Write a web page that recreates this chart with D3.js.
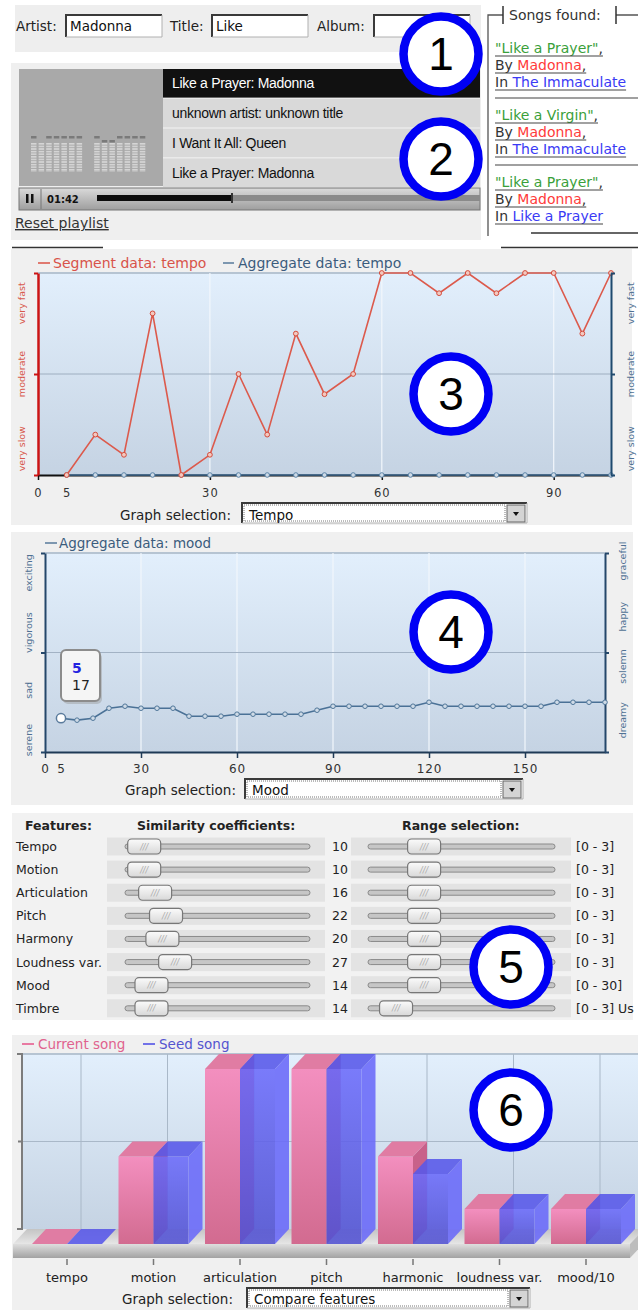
<!DOCTYPE html>
<html>
<head>
<meta charset="utf-8">
<script src="https://cdn.jsdelivr.net/npm/d3@7"></script>
<style>
  body { margin: 0; background: #fff; }
  text { font-family: "DejaVu Sans", Verdana, sans-serif; }
</style>
</head>
<body>
<div id="chart"></div>
<script>
// ---------- data ----------
var searchLabels = ["Artist:", "Title:", "Album:"];
var searchValues = ["Madonna", "Like", ""];

var playlist = ["Like a Prayer: Madonna", "unknown artist: unknown title", "I Want It All: Queen", "Like a Prayer: Madonna"];
var eqLevels = [9, 0, 9, 9, 9, 9, 9, 9, 8, 8, 9, 9, 9, 9];

var foundTitles  = ["Like a Prayer", "Like a Virgin", "Like a Prayer"];
var foundArtists = ["Madonna", "Madonna", "Madonna"];
var foundAlbums  = ["The Immaculate", "The Immaculate", "Like a Prayer"];

// tempo panel (segment index in seconds vs tempo level 0-100)
var tempoTime      = [5, 10, 15, 20, 25, 30, 35, 40, 45, 50, 55, 60, 65, 70, 75, 80, 85, 90, 95, 100];
var tempoSegment   = [0, 20, 10, 80, 0, 10, 50, 20, 70, 40, 50, 100, 100, 90, 100, 90, 100, 100, 70, 100];
var tempoAggregate = [0, 0, 0, 0, 0, 0, 0, 0, 0, 0, 0, 0, 0, 0, 0, 0, 0, 0, 0, 0];
var tempoTicks  = [0, 5, 30, 60, 90];
var tempoLevels = ["very slow", "moderate", "very fast"];
var tempoLevelAt = [13, 50, 85];

// mood panel
var moodTime = [5, 10, 15, 20, 25, 30, 35, 40, 45, 50, 55, 60, 65, 70, 75, 80, 85, 90, 95, 100,
                105, 110, 115, 120, 125, 130, 135, 140, 145, 150, 155, 160, 165, 170, 175];
var moodAggregate = [17, 16, 17, 22, 23, 22, 22, 22, 18, 18, 18, 19, 19, 19, 19, 19, 21, 23, 23, 23,
                     23, 23, 23, 25, 23, 23, 23, 23, 23, 23, 23, 25, 25, 25, 25];
var moodTicks = [0, 5, 30, 60, 90, 120, 150];
var moodLeft  = ["serene", "sad", "vigorous", "exciting"];
var moodLeftAt = [6, 31, 60, 90];
var moodRight = ["dreamy", "solemn", "happy", "graceful"];
var moodRightAt = [16, 43, 68, 96];

// feature weights
var features   = ["Tempo", "Motion", "Articulation", "Pitch", "Harmony", "Loudness var.", "Mood", "Timbre"];
var similarity = [10, 10, 16, 22, 20, 27, 14, 14];
var rangePos   = [30, 30, 30, 30, 30, 30, 30, 15];
var rangeLabels = ["[0 - 3]", "[0 - 3]", "[0 - 3]", "[0 - 3]", "[0 - 3]", "[0 - 3]", "[0 - 30]", "[0 - 3] Us"];

// compare features
var compareCats = ["tempo", "motion", "articulation", "pitch", "harmonic", "loudness var.", "mood/10"];
var currentSong = [0, 1.5, 3, 3, 1.5, 0.6, 0.6];
var seedSong    = [0, 1.5, 3, 3, 1.2, 0.6, 0.6];

// ---------- page ----------
var W = 638, H = 1310;
var svg = d3.select("#chart").append("svg")
    .attr("width", W)
    .attr("height", H);
var defs = svg.append("defs");

function vgrad(id, stops) {
  var g = defs.append("linearGradient").attr("id", id)
      .attr("x1", 0).attr("y1", 0).attr("x2", 0).attr("y2", 1);
  stops.forEach(function(s, i) {
    g.append("stop").attr("offset", i / (stops.length - 1)).attr("stop-color", s);
  });
}
vgrad("plotBg", ["#e2effc", "#c5d3e3"]);
vgrad("pinkFront", ["#f38fbf", "#d26b90"]);
vgrad("blueFront", ["#6c6cfb", "#5252d2"]);
vgrad("floorTop", ["#c4c4c4", "#e6e6e6"]);
vgrad("floorFront", ["#dedede", "#a2a2a2"]);
vgrad("progBg", ["#dadada", "#9e9e9e"]);
vgrad("thumbBg", ["#fbfbfb", "#d8d8d8"]);

var stripe = defs.append("pattern").attr("id", "eqStripe")
    .attr("width", 6).attr("height", 2.6).attr("patternUnits", "userSpaceOnUse");
stripe.append("rect").attr("width", 6).attr("height", 1.6).attr("fill", "#d6d6d6");

function panel(x, y, w, h, fill) {
  return svg.append("rect").attr("x", x).attr("y", y).attr("width", w).attr("height", h).attr("fill", fill);
}

function sunkenBox(g, x, y, w, h) {
  g.append("rect").attr("x", x).attr("y", y).attr("width", w).attr("height", h).attr("fill", "#fff");
  g.append("path").attr("d", "M" + x + "," + (y + h) + "V" + y + "H" + (x + w))
      .attr("fill", "none").attr("stroke", "#3a3a3a").attr("stroke-width", 2);
  g.append("path").attr("d", "M" + (x + w) + "," + y + "V" + (y + h) + "H" + x)
      .attr("fill", "none").attr("stroke", "#b0b0b0").attr("stroke-width", 1);
}

function graphSelect(x, y, w, label, textX, textBaseline) {
  var g = svg.append("g");
  g.append("text").attr("x", textX).attr("y", textBaseline)
      .attr("font-size", 13.5).attr("fill", "#222").text("Graph selection:");
  sunkenBox(g, x, y, w, 20);
  g.append("rect").attr("x", x + 2).attr("y", y + 2).attr("width", w - 24).attr("height", 16)
      .attr("fill", "none").attr("stroke", "#777").attr("stroke-dasharray", "1,1");
  g.append("text").attr("x", x + 7).attr("y", textBaseline).attr("font-size", 13.5)
      .attr("fill", "#111").text(label);
  g.append("rect").attr("x", x + w - 20).attr("y", y + 2).attr("width", 18).attr("height", 17)
      .attr("fill", "#d4d4d4").attr("stroke", "#666");
  g.append("path").attr("d", "M" + (x + w - 14) + "," + (y + 9) + "h6l-3,4z").attr("fill", "#111");
}

// ---------- 1: search ----------
panel(15, 5, 466, 47, "#eeeeee");
var searchG = svg.append("g");
var labelX = [16, 170, 317], inputX = [66, 212, 374];
searchLabels.forEach(function(l, i) {
  searchG.append("text").attr("x", labelX[i]).attr("y", 31).attr("font-size", 13.5).attr("fill", "#222").text(l);
  sunkenBox(searchG, inputX[i], 15, 96, 22);
  searchG.append("text").attr("x", inputX[i] + 4).attr("y", 31).attr("font-size", 13.5).attr("fill", "#111").text(searchValues[i]);
});

// ---------- 2: player ----------
panel(11, 63, 470, 177, "#efefef");
svg.append("rect").attr("x", 19).attr("y", 69).attr("width", 144).attr("height", 117).attr("fill", "#a9a9a9");
var eqG = svg.append("g");
eqLevels.forEach(function(lv, i) {
  var bx = 31 + i * 7.6 + (i >= 7 ? 10 : 0);
  eqG.append("rect").attr("x", bx).attr("y", 143).attr("width", 5.5).attr("height", 29).attr("fill", "url(#eqStripe)");
  if (lv > 0) eqG.append("rect").attr("x", bx).attr("y", 172 - lv * 4).attr("width", 5.5).attr("height", 2.5).attr("fill", "#7a7a7a");
});

var rowY = d3.scaleBand().domain(d3.range(playlist.length)).range([69, 187]).paddingInner(0.04);
var plG = svg.append("g");
plG.selectAll("rect").data(playlist).enter().append("rect")
    .attr("x", 163).attr("y", function(d, i) { return rowY(i); })
    .attr("width", 317).attr("height", rowY.bandwidth())
    .attr("fill", function(d, i) { return i === 0 ? "#111" : "#d9d9d9"; });
plG.selectAll("text").data(playlist).enter().append("text")
    .attr("x", 172).attr("y", function(d, i) { return rowY(i) + rowY.bandwidth() / 2 + 5; })
    .style("font-family", "'Liberation Sans', Arial, sans-serif")
    .attr("font-size", 14).attr("letter-spacing", -0.3)
    .attr("fill", function(d, i) { return i === 0 ? "#fff" : "#111"; })
    .text(function(d) { return d; });

// progress bar
var prog = svg.append("g");
prog.append("rect").attr("x", 19).attr("y", 188).attr("width", 461).attr("height", 22)
    .attr("fill", "url(#progBg)").attr("stroke", "#777");
prog.append("line").attr("x1", 41).attr("x2", 41).attr("y1", 189).attr("y2", 209).attr("stroke", "#777");
prog.append("rect").attr("x", 26).attr("y", 194).attr("width", 2.5).attr("height", 9).attr("fill", "#111");
prog.append("rect").attr("x", 31).attr("y", 194).attr("width", 2.5).attr("height", 9).attr("fill", "#111");
prog.append("text").attr("x", 47).attr("y", 203).attr("font-size", 10).attr("font-weight", "bold").attr("fill", "#111").text("01:42");
prog.append("rect").attr("x", 97).attr("y", 195).attr("width", 383).attr("height", 6).attr("fill", "#8a8a8a");
prog.append("rect").attr("x", 97).attr("y", 195).attr("width", 135).attr("height", 6).attr("fill", "#0c0c0c");
prog.append("rect").attr("x", 231).attr("y", 193).attr("width", 2).attr("height", 10).attr("fill", "#333");

svg.append("text").attr("x", 15).attr("y", 228).attr("font-size", 14).attr("fill", "#333")
    .attr("text-decoration", "underline").text("Reset playlist");

// songs found
var sf = svg.append("g");
sf.append("path").attr("d", "M488,236V15H503M616,15H638").attr("fill", "none").attr("stroke", "#555").attr("stroke-width", 1.3);
sf.append("path").attr("d", "M503,6V24M616,6V24").attr("fill", "none").attr("stroke", "#333").attr("stroke-width", 1.5);
sf.append("text").attr("x", 509).attr("y", 20).attr("font-size", 14).attr("fill", "#333").text("Songs found:");
var entryY = d3.scalePoint().domain(d3.range(foundTitles.length)).range([53, 187]);
foundTitles.forEach(function(t, i) {
  var y0 = entryY(i);
  var lines = [
    [["\"" + t + "\"", "#3aa03a"], [",", "#333"]],
    [["By ", "#333"], [foundArtists[i], "#ff3b3b"], [",", "#333"]],
    [["In ", "#333"], [foundAlbums[i], "#3a3af5"]]
  ];
  lines.forEach(function(parts, j) {
    var tx = sf.append("text").attr("x", 495).attr("y", y0 + j * 17).attr("font-size", 14);
    parts.forEach(function(p) { tx.append("tspan").attr("fill", p[1]).text(p[0]); });
    var len = tx.node().getComputedTextLength();
    sf.append("line").attr("x1", 495).attr("x2", Math.min(495 + len, 638))
        .attr("y1", y0 + j * 17 + 3).attr("y2", y0 + j * 17 + 3)
        .attr("stroke", "#444").attr("stroke-width", 1.2);
  });
  if (i < foundTitles.length - 1) {
    sf.append("line").attr("x1", 495).attr("x2", 638).attr("y1", y0 + 45).attr("y2", y0 + 45)
        .attr("stroke", "#a0a0a0").attr("stroke-width", 2);
  }
});
sf.append("line").attr("x1", 531).attr("x2", 638).attr("y1", 233).attr("y2", 233).attr("stroke", "#333").attr("stroke-width", 1.5);

// ---------- 3: tempo chart ----------
panel(11, 249, 621, 276, "#f0f0f0");
svg.append("path").attr("d", "M12,247.5H103M501,247.5H638").attr("stroke", "#333").attr("stroke-width", 1.5);

var tx = d3.scaleLinear().domain([0, 100]).range([38, 611]);
var ty = d3.scaleLinear().domain([0, 100]).range([475, 273]);
var tg = svg.append("g");
tg.append("rect").attr("x", tx(0)).attr("y", ty(100)).attr("width", tx(100) - tx(0)).attr("height", ty(0) - ty(100))
    .attr("fill", "url(#plotBg)");
tg.append("line").attr("x1", tx(0)).attr("x2", tx(100)).attr("y1", ty(100)).attr("y2", ty(100)).attr("stroke", "#b6c4d2").attr("stroke-width", 2);
tg.selectAll(".vgrid").data([30, 60, 90]).enter().append("line")
    .attr("x1", tx).attr("x2", tx).attr("y1", ty(100)).attr("y2", ty(0))
    .attr("stroke", "#f2f7fc").attr("stroke-width", 1.2);
tg.append("line").attr("x1", tx(0)).attr("x2", tx(100)).attr("y1", ty(50)).attr("y2", ty(50)).attr("stroke", "#9eaec0");

var tLine = d3.line().x(function(d) { return tx(d[0]); }).y(function(d) { return ty(d[1]); });
var aggPts = d3.zip(tempoTime, tempoAggregate), segPts = d3.zip(tempoTime, tempoSegment);

var tAxis = tg.append("g").attr("transform", "translate(0," + ty(0) + ")")
    .call(d3.axisBottom(tx).tickValues(tempoTicks).tickSize(5).tickSizeOuter(0));
tAxis.select(".domain").attr("stroke", "#111").attr("stroke-width", 2);
tAxis.selectAll(".tick line").attr("stroke", "#111").attr("stroke-width", 1.5)
    .attr("opacity", function(d) { return d === 5 ? 0 : 1; });
tAxis.selectAll("text").attr("y", 22).attr("dy", 0).attr("font-size", 11.5).attr("letter-spacing", 1).attr("fill", "#333");

tg.append("path").datum(aggPts).attr("d", tLine).attr("fill", "none").attr("stroke", "#3f6a90").attr("stroke-width", 1.5);
tg.selectAll(".aggDot").data(aggPts).enter().append("circle")
    .attr("cx", function(d) { return tx(d[0]); }).attr("cy", function(d) { return ty(d[1]); }).attr("r", 2.3)
    .attr("fill", "#cfdbe7").attr("stroke", "#5b84a8").attr("stroke-width", 1);
tg.append("path").datum(segPts).attr("d", tLine).attr("fill", "none").attr("stroke", "#dc5a4c").attr("stroke-width", 1.6);
tg.selectAll(".segDot").data(segPts).enter().append("circle")
    .attr("cx", function(d) { return tx(d[0]); }).attr("cy", function(d) { return ty(d[1]); }).attr("r", 2.4)
    .attr("fill", "#f3c9c0").attr("stroke", "#d44c3c").attr("stroke-width", 1);

var tLeft = tg.append("g").attr("transform", "translate(" + tx(0) + ",0)")
    .call(d3.axisLeft(ty).tickValues([0, 50, 100]).tickSize(4).tickSizeOuter(0).tickFormat(""));
tLeft.select(".domain").attr("stroke", "#cc1414").attr("stroke-width", 2.5);
tLeft.selectAll(".tick line").attr("stroke", "#cc1414").attr("stroke-width", 2);
var tRight = tg.append("g").attr("transform", "translate(" + tx(100) + ",0)")
    .call(d3.axisRight(ty).tickValues([0, 50, 100]).tickSize(4).tickSizeOuter(0).tickFormat(""));
tRight.select(".domain").attr("stroke", "#1f4a6e").attr("stroke-width", 2);
tRight.selectAll(".tick line").attr("stroke", "#1f4a6e").attr("stroke-width", 2);

tempoLevels.forEach(function(l, i) {
  tg.append("text").attr("transform", "translate(21.5," + ty(tempoLevelAt[i]) + ") rotate(-90)")
      .attr("text-anchor", "middle").attr("dy", "0.35em").attr("font-size", 9.5).attr("fill", "#d8584c").text(l);
  tg.append("text").attr("transform", "translate(630.5," + ty(tempoLevelAt[i]) + ") rotate(-90)")
      .attr("text-anchor", "middle").attr("dy", "0.35em").attr("font-size", 9.5).attr("fill", "#4f7193").text(l);
});

tg.append("line").attr("x1", 38).attr("x2", 50).attr("y1", 263).attr("y2", 263).attr("stroke", "#e07a70").attr("stroke-width", 2);
tg.append("text").attr("x", 53).attr("y", 268).attr("font-size", 14).attr("fill", "#d8534a").text("Segment data: tempo");
tg.append("line").attr("x1", 223).attr("x2", 234).attr("y1", 263).attr("y2", 263).attr("stroke", "#7d97b0").attr("stroke-width", 2);
tg.append("text").attr("x", 238).attr("y", 268).attr("font-size", 14).attr("fill", "#3b5c7d").text("Aggregate data: tempo");

graphSelect(242, 503, 285, "Tempo", 120, 520);

// ---------- 4: mood chart ----------
panel(11, 532, 622, 273, "#f0f0f0");
var mx = d3.scaleLinear().domain([0, 175]).range([45, 605]);
var my = d3.scaleLinear().domain([0, 100]).range([752, 553]);
var mg = svg.append("g");
mg.append("rect").attr("x", mx(0)).attr("y", my(100)).attr("width", mx(175) - mx(0)).attr("height", my(0) - my(100))
    .attr("fill", "url(#plotBg)");
mg.append("line").attr("x1", mx(0)).attr("x2", mx(175)).attr("y1", my(100)).attr("y2", my(100)).attr("stroke", "#b6c4d2").attr("stroke-width", 2);
mg.selectAll(".vgrid").data([30, 60, 90, 120, 150]).enter().append("line")
    .attr("x1", mx).attr("x2", mx).attr("y1", my(100)).attr("y2", my(0))
    .attr("stroke", "#f2f7fc").attr("stroke-width", 1.2);
mg.append("line").attr("x1", mx(0)).attr("x2", mx(175)).attr("y1", my(50)).attr("y2", my(50)).attr("stroke", "#a2b2c4");

var mAxis = mg.append("g").attr("transform", "translate(0," + my(0) + ")")
    .call(d3.axisBottom(mx).tickValues(moodTicks).tickSize(6).tickSizeOuter(0));
mAxis.select(".domain").attr("stroke", "#1f3a56").attr("stroke-width", 2);
mAxis.selectAll(".tick line").attr("stroke", "#1f3a56").attr("stroke-width", 1.5)
    .attr("opacity", function(d) { return d === 5 ? 0 : 1; });
mAxis.selectAll("text").attr("y", 21).attr("dy", 0).attr("font-size", 12).attr("letter-spacing", 0.8).attr("fill", "#333");

var mLeft = mg.append("g").attr("transform", "translate(" + mx(0) + ",0)")
    .call(d3.axisLeft(my).tickValues([0, 50, 100]).tickSize(4).tickSizeOuter(0).tickFormat(""));
var mRight = mg.append("g").attr("transform", "translate(" + mx(175) + ",0)")
    .call(d3.axisRight(my).tickValues([0, 50, 100]).tickSize(4).tickSizeOuter(0).tickFormat(""));
[mLeft, mRight].forEach(function(a) {
  a.select(".domain").attr("stroke", "#24476a").attr("stroke-width", 2);
  a.selectAll(".tick line").attr("stroke", "#24476a").attr("stroke-width", 2);
});
moodLeft.forEach(function(l, i) {
  mg.append("text").attr("transform", "translate(28.5," + my(moodLeftAt[i]) + ") rotate(-90)")
      .attr("text-anchor", "middle").attr("dy", "0.35em").attr("font-size", 9.5).attr("fill", "#4f7193").text(l);
});
moodRight.forEach(function(l, i) {
  mg.append("text").attr("transform", "translate(623," + my(moodRightAt[i]) + ") rotate(-90)")
      .attr("text-anchor", "middle").attr("dy", "0.35em").attr("font-size", 9.5).attr("fill", "#4f7193").text(l);
});

var moodPts = d3.zip(moodTime, moodAggregate);
var mLine = d3.line().x(function(d) { return mx(d[0]); }).y(function(d) { return my(d[1]); });
mg.append("path").datum(moodPts).attr("d", mLine).attr("fill", "none").attr("stroke", "#4a7196").attr("stroke-width", 1.6);
mg.selectAll(".moodDot").data(moodPts).enter().append("circle")
    .attr("cx", function(d) { return mx(d[0]); }).attr("cy", function(d) { return my(d[1]); }).attr("r", 2.3)
    .attr("fill", "#cfdbe7").attr("stroke", "#4f7699").attr("stroke-width", 1);
mg.append("circle").attr("cx", mx(moodTime[0])).attr("cy", my(moodAggregate[0])).attr("r", 4.6)
    .attr("fill", "#fff").attr("stroke", "#5a7b9c").attr("stroke-width", 1.5);

// hover tooltip for the first point
var tip = mg.append("g");
tip.append("rect").attr("x", 63).attr("y", 653).attr("width", 39).attr("height", 51).attr("rx", 5).attr("fill", "#999").attr("opacity", 0.45);
tip.append("rect").attr("x", 61).attr("y", 650).attr("width", 39).attr("height", 51).attr("rx", 5)
    .attr("fill", "#f5f5f5").attr("stroke", "#8c8c8c").attr("stroke-width", 2);
tip.append("text").attr("x", 72).attr("y", 673).attr("font-size", 14).attr("font-weight", "bold").attr("fill", "#2323e0").text(moodTime[0]);
tip.append("text").attr("x", 72).attr("y", 690).attr("font-size", 14).attr("fill", "#222").text(moodAggregate[0]);

mg.append("line").attr("x1", 45).attr("x2", 57).attr("y1", 543).attr("y2", 543).attr("stroke", "#7d97b0").attr("stroke-width", 2);
mg.append("text").attr("x", 59).attr("y", 548).attr("font-size", 13.5).attr("fill", "#3b5c7d").text("Aggregate data: mood");

graphSelect(245, 779, 278, "Mood", 125, 795);

// ---------- 5: feature weights ----------
panel(12, 813, 621, 207, "#f2f2f2");
var fg = svg.append("g");
fg.append("text").attr("x", 25).attr("y", 830).attr("font-size", 12.5).attr("font-weight", "bold").attr("fill", "#222").text("Features:");
fg.append("text").attr("x", 137).attr("y", 830).attr("font-size", 12.5).attr("font-weight", "bold").attr("fill", "#222").text("Similarity coefficients:");
fg.append("text").attr("x", 402).attr("y", 830).attr("font-size", 12.5).attr("font-weight", "bold").attr("fill", "#222").text("Range selection:");

var fy = d3.scalePoint().domain(features).range([846.5, 1008.3]);
var simX = d3.scaleLinear().domain([0, 100]).range([126, 308]);
var rngX = d3.scaleLinear().domain([0, 100]).range([368, 555]);

function slider(g, x0, x1, cx, cy) {
  g.append("rect").attr("x", x0).attr("y", cy - 2.5).attr("width", x1 - x0).attr("height", 5).attr("rx", 2.5)
      .attr("fill", "#c6c6c6").attr("stroke", "#8a8a8a");
  g.append("rect").attr("x", cx - 16.5).attr("y", cy - 7.5).attr("width", 33).attr("height", 15).attr("rx", 4)
      .attr("fill", "url(#thumbBg)").attr("stroke", "#777").attr("stroke-width", 1.2);
  g.append("text").attr("x", cx).attr("y", cy + 3).attr("text-anchor", "middle").attr("font-size", 8)
      .attr("font-style", "italic").attr("fill", "#aaa").text("///");
}

features.forEach(function(f, i) {
  var cy = fy(f);
  fg.append("rect").attr("x", 107).attr("y", cy - 9).attr("width", 218).attr("height", 18).attr("fill", "#e3e3e3");
  fg.append("rect").attr("x", 351).attr("y", cy - 9).attr("width", 220).attr("height", 18).attr("fill", "#e3e3e3");
  fg.append("text").attr("x", 16).attr("y", cy + 4.5).attr("font-size", 12.5).attr("fill", "#222").text(f);
  slider(fg, 125, 310, simX(similarity[i]), cy);
  fg.append("text").attr("x", 332).attr("y", cy + 4.5).attr("font-size", 12.5).attr("fill", "#222").text(similarity[i]);
  slider(fg, 368, 555, rngX(rangePos[i]), cy);
  fg.append("text").attr("x", 576).attr("y", cy + 4.5).attr("font-size", 12.5).attr("fill", "#222").text(rangeLabels[i]);
});

// ---------- 6: compare features (3D bars) ----------
panel(12, 1035, 626, 275, "#f0f0f0");
var DX = 14, DY = 15, BW = 35, FLOOR = 1244;
var bx = d3.scalePoint().domain(compareCats).range([67, 586]);
var bh = d3.scaleLinear().domain([0, 3]).range([0, 175]);
var cg = svg.append("g");
var backBase = FLOOR - DY;

cg.append("rect").attr("x", 22).attr("y", backBase - bh(3)).attr("width", 616).attr("height", bh(3))
    .attr("fill", "url(#plotBg)");
cg.append("line").attr("x1", 22).attr("x2", 638).attr("y1", backBase - bh(3)).attr("y2", backBase - bh(3)).attr("stroke", "#b6c4d2").attr("stroke-width", 2);
cg.selectAll(".vgrid").data(compareCats).enter().append("line")
    .attr("x1", function(d) { return bx(d) + DX; }).attr("x2", function(d) { return bx(d) + DX; })
    .attr("y1", backBase - bh(3)).attr("y2", backBase)
    .attr("stroke", "#a9b8c8");
cg.append("line").attr("x1", 22).attr("x2", 638).attr("y1", backBase - bh(1.5)).attr("y2", backBase - bh(1.5)).attr("stroke", "#a9b8c8");
cg.append("path").attr("d", "M17," + (backBase - bh(3)) + "H22V" + backBase + "H17M18," + (backBase - bh(1.5)) + "H22")
    .attr("fill", "none").attr("stroke", "#7c7c7c").attr("stroke-width", 2);

// floor
cg.append("path").attr("d", "M13," + FLOOR + "L" + (13 + DX) + "," + backBase + "H" + (630 + DX) + "L630," + FLOOR + "Z")
    .attr("fill", "url(#floorTop)");
cg.append("rect").attr("x", 13).attr("y", FLOOR).attr("width", 617).attr("height", 14).attr("fill", "url(#floorFront)");
cg.append("path").attr("d", "M630," + FLOOR + "L" + (630 + DX) + "," + backBase + "V" + (backBase + 14) + "L630," + (FLOOR + 14) + "Z")
    .attr("fill", "#bdbdbd");

var series = [
  {vals: currentSong, off: -BW, front: "url(#pinkFront)", top: "#e07ca3", side: "#c8618a", op: 1},
  {vals: seedSong, off: 0, front: "url(#blueFront)", top: "#5858ea", side: "#6a6afa", op: 0.88}
];
compareCats.forEach(function(c, i) {
  series.forEach(function(s) {
    var x = bx(c) + s.off, h = bh(s.vals[i]), yT = FLOOR - h;
    var g = cg.append("g").attr("opacity", s.op);
    g.append("rect").attr("x", x).attr("y", yT).attr("width", BW).attr("height", h).attr("fill", s.front);
    g.append("path").attr("d", "M" + (x + BW) + "," + yT + "l" + DX + "," + (-DY) + "V" + backBase + "L" + (x + BW) + "," + FLOOR + "Z")
        .attr("fill", s.side);
    g.append("path").attr("d", "M" + x + "," + yT + "l" + DX + "," + (-DY) + "h" + BW + "l" + (-DX) + "," + DY + "Z")
        .attr("fill", s.top);
  });
});

cg.selectAll(".ctick").data(compareCats).enter().append("line")
    .attr("x1", bx).attr("x2", bx).attr("y1", FLOOR + 15).attr("y2", FLOOR + 21)
    .attr("stroke", "#777").attr("stroke-width", 1.5);
cg.selectAll(".clabel").data(compareCats).enter().append("text")
    .attr("x", bx).attr("y", 1282).attr("text-anchor", "middle").attr("font-size", 13).attr("fill", "#222")
    .text(function(d) { return d; });

cg.append("line").attr("x1", 22).attr("x2", 34).attr("y1", 1044).attr("y2", 1044).attr("stroke", "#e87aa2").attr("stroke-width", 2);
cg.append("text").attr("x", 38).attr("y", 1049).attr("font-size", 13.5).attr("fill", "#e0628e").text("Current song");
cg.append("line").attr("x1", 143).attr("x2", 155).attr("y1", 1044).attr("y2", 1044).attr("stroke", "#7272e8").attr("stroke-width", 2);
cg.append("text").attr("x", 159).attr("y", 1049).attr("font-size", 13.5).attr("fill", "#5454cf").text("Seed song");

graphSelect(247, 1288, 283, "Compare features", 122, 1304);

// ---------- numbered markers ----------
var markers = [[441, 54], [441, 159], [451, 394], [451, 632], [511, 967], [511, 1110]];
markers.forEach(function(m, i) {
  svg.append("circle").attr("cx", m[0]).attr("cy", m[1]).attr("r", 37.5)
      .attr("fill", "#fff").attr("stroke", "#0000f5").attr("stroke-width", 8.5);
  svg.append("text").attr("x", m[0]).attr("y", m[1] + 16).attr("text-anchor", "middle")
      .style("font-family", "'Liberation Sans', Arial, sans-serif")
      .attr("font-size", 46).attr("fill", "#000").text(i + 1);
});
</script>
</body>
</html>
